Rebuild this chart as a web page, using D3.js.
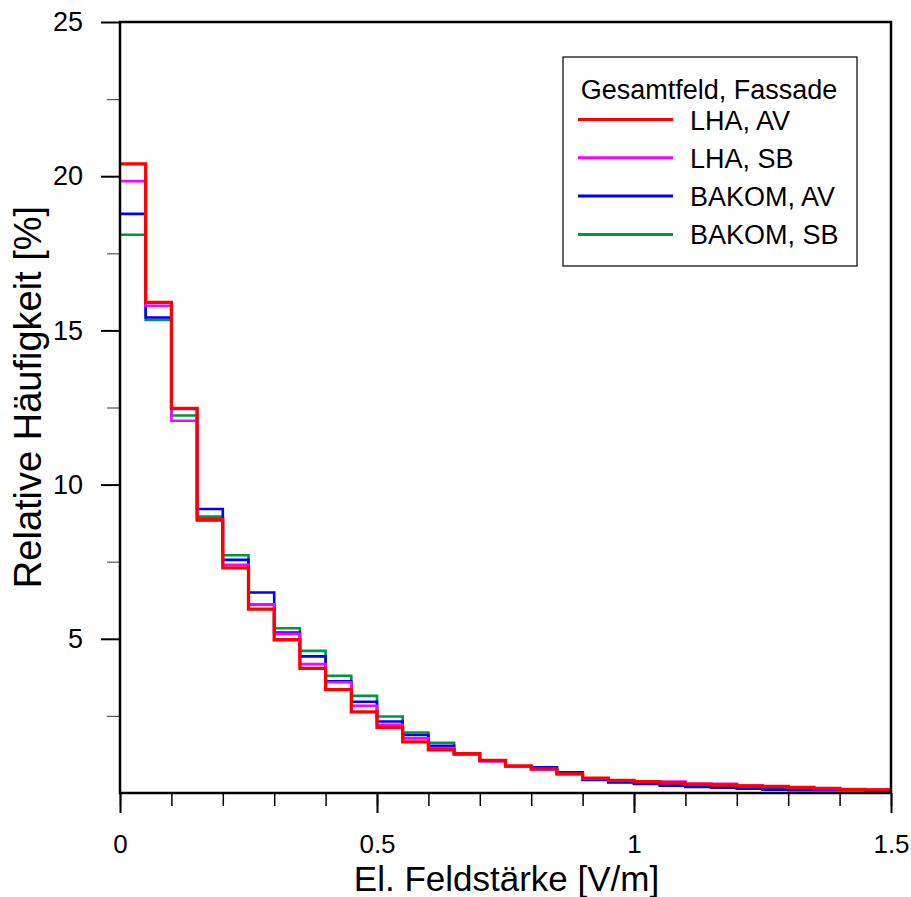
<!DOCTYPE html>
<html>
<head>
<meta charset="utf-8">
<script src="https://cdn.jsdelivr.net/npm/d3@7"></script>
<style>
  html, body { margin: 0; padding: 0; background: #fff; }
  svg { display: block; font-family: "Liberation Sans", Arial, sans-serif; }
</style>
</head>
<body>
<svg id="chart" width="911" height="897"></svg>
<script>
// Bin width 0.05 V/m, bins start at these field strengths
const binStarts = d3.range(30).map(i => +(i * 0.05).toFixed(2));
const binWidth = 0.05;

// Relative frequency [%] per bin
const lhaAV = [20.40, 15.91, 12.47, 8.87, 7.30, 5.96, 4.97, 4.04, 3.35, 2.63,
               2.13, 1.66, 1.40, 1.28, 1.06, 0.88, 0.78, 0.62, 0.48, 0.41,
               0.37, 0.33, 0.29, 0.26, 0.23, 0.21, 0.18, 0.15, 0.12, 0.10];
const lhaSB = [19.84, 15.80, 12.07, 8.83, 7.40, 6.12, 5.16, 4.18, 3.59, 2.83,
               2.21, 1.77, 1.46, 1.25, 1.03, 0.85, 0.76, 0.61, 0.47, 0.41,
               0.38, 0.37, 0.30, 0.30, 0.24, 0.21, 0.17, 0.12, 0.12, 0.11];
const bakomAV = [18.78, 15.42, 12.45, 9.21, 7.56, 6.50, 5.20, 4.43, 3.62, 2.96,
                 2.32, 1.88, 1.53, 1.26, 1.04, 0.86, 0.83, 0.67, 0.42, 0.34,
                 0.29, 0.24, 0.20, 0.17, 0.14, 0.11, 0.09, 0.09, 0.09, 0.08];
const bakomSB = [18.10, 15.34, 12.24, 8.96, 7.71, 6.10, 5.34, 4.61, 3.80, 3.15,
                 2.48, 1.96, 1.63, 1.27, 1.04, 0.86, 0.80, 0.64, 0.44, 0.36,
                 0.31, 0.26, 0.22, 0.19, 0.16, 0.13, 0.11, 0.10, 0.10, 0.09];

const seriesNames = ["LHA, AV", "LHA, SB", "BAKOM, AV", "BAKOM, SB"];
const seriesColors = ["#ff0000", "#ff00ff", "#0000ff", "#00963c"];
const seriesValues = [lhaAV, lhaSB, bakomAV, bakomSB];

const xTickLabels = [0, 0.5, 1, 1.5];
const yTickLabels = [5, 10, 15, 20, 25];
const legendTitle = "Gesamtfeld, Fassade";
const xTitle = "El. Feldstärke [V/m]";
const yTitle = "Relative Häufigkeit [%]";

const svg = d3.select("#chart");
const plotLeft = 120, plotRight = 891, plotTop = 22, plotBottom = 793;

const x = d3.scaleLinear().domain([0, 1.5]).range([plotLeft, plotRight]);
const y = d3.scaleLinear().domain([0, 25]).range([plotBottom, plotTop]);

// Minor ticks
const xAxisMinor = d3.axisBottom(x).tickValues(d3.range(0, 1.51, 0.1)).tickSize(13).tickFormat("");
const yAxisMinor = d3.axisLeft(y).tickValues(d3.range(2.5, 25, 5)).tickSize(13).tickFormat("");
svg.append("g").attr("transform", `translate(0,${plotBottom})`).call(xAxisMinor)
  .call(g => g.select(".domain").remove())
  .call(g => g.selectAll("line").attr("stroke", "#000").attr("stroke-width", 1.5));
svg.append("g").attr("transform", `translate(${plotLeft},0)`).call(yAxisMinor)
  .call(g => g.select(".domain").remove())
  .call(g => g.selectAll("line").attr("stroke", "#555").attr("stroke-width", 1.2));

// Major ticks with labels
const xAxis = d3.axisBottom(x).tickValues(xTickLabels).tickSize(20).tickPadding(22)
  .tickFormat(d => String(d));
const yAxis = d3.axisLeft(y).tickValues(yTickLabels).tickSize(19).tickPadding(18)
  .tickFormat(d => String(d));
svg.append("g").attr("transform", `translate(0,${plotBottom})`).call(xAxis)
  .call(g => g.select(".domain").remove())
  .call(g => g.selectAll("line").attr("stroke", "#000").attr("stroke-width", 2))
  .call(g => g.selectAll("text").attr("fill", "#000").attr("font-size", 26)
    .attr("font-family", "Liberation Sans, Arial, sans-serif"));
svg.append("g").attr("transform", `translate(${plotLeft},0)`).call(yAxis)
  .call(g => g.select(".domain").remove())
  .call(g => g.selectAll("line").attr("stroke", "#000").attr("stroke-width", 2))
  .call(g => g.selectAll("text").attr("fill", "#000").attr("font-size", 27)
    .attr("font-family", "Liberation Sans, Arial, sans-serif"));

// Step lines: each bin holds its value until the next bin start
const line = d3.line()
  .x(d => x(d[0]))
  .y(d => y(d[1]))
  .curve(d3.curveStepAfter);

const plot = svg.append("g");
const drawOrder = [3, 2, 1, 0];
drawOrder.forEach(i => {
  const vals = seriesValues[i];
  const pts = binStarts.map((b, j) => [b, vals[j]]);
  pts.push([binStarts[binStarts.length - 1] + binWidth, vals[vals.length - 1]]);
  plot.append("path")
    .datum(pts)
    .attr("fill", "none")
    .attr("stroke", seriesColors[i])
    .attr("stroke-width", i === 0 ? 3.3 : 2.6)
    .attr("stroke-linejoin", "miter")
    .attr("d", line);
});

// Frame
svg.append("rect")
  .attr("x", plotLeft).attr("y", plotTop)
  .attr("width", plotRight - plotLeft).attr("height", plotBottom - plotTop)
  .attr("fill", "none").attr("stroke", "#000").attr("stroke-width", 2.5);

// Legend
const lg = svg.append("g");
lg.append("rect")
  .attr("x", 563).attr("y", 57).attr("width", 294).attr("height", 209)
  .attr("fill", "#fff").attr("stroke", "#000").attr("stroke-width", 1.2);
lg.append("text")
  .attr("x", 709).attr("y", 99).attr("text-anchor", "middle")
  .attr("font-size", 27).text(legendTitle);
seriesNames.forEach((name, i) => {
  const ly = 119.5 + i * 38.3;
  lg.append("line")
    .attr("x1", 578).attr("x2", 673).attr("y1", ly).attr("y2", ly)
    .attr("stroke", seriesColors[i]).attr("stroke-width", 3);
  lg.append("text")
    .attr("x", 690).attr("y", ly + 10).attr("font-size", 27).text(name);
});

// Axis titles
svg.append("text")
  .attr("x", (plotLeft + plotRight) / 2 + 1).attr("y", 891)
  .attr("text-anchor", "middle").attr("font-size", 35).text(xTitle);
svg.append("text")
  .attr("transform", `translate(41,397) rotate(-90)`)
  .attr("text-anchor", "middle").attr("font-size", 38).text(yTitle);
</script>
</body>
</html>
